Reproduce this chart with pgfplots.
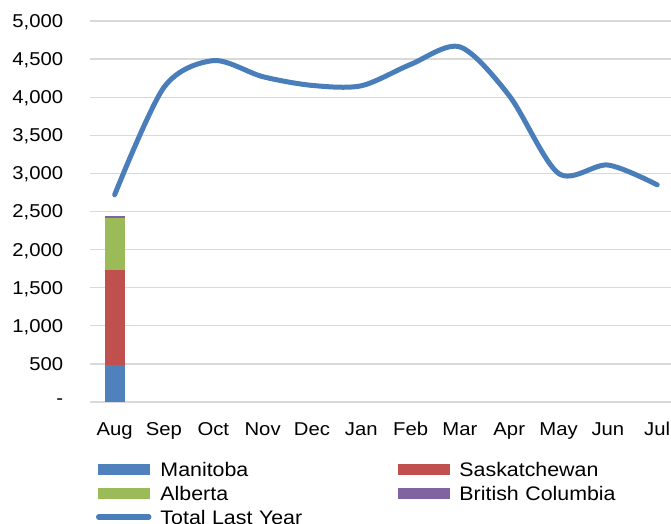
\documentclass[border=0pt]{standalone}
\usepackage{fontspec}
\setmainfont{Liberation Sans}[FakeStretch=1.09]
\usepackage{pgfplots}
\pgfplotsset{compat=1.18}
\definecolor{mb}{HTML}{4F81BD}
\definecolor{sk}{HTML}{C0504D}
\definecolor{ab}{HTML}{9BBB59}
\definecolor{bc}{HTML}{8064A2}
\definecolor{lb}{HTML}{4A7EBB}
\definecolor{gridc}{HTML}{D9D9D9}
\begin{document}
\fontsize{18.6bp}{22bp}\selectfont
\begin{tikzpicture}
\pgfplotsset{common/.style={
  scale only axis, width=581bp, height=381bp,
  xmin=-0.5, xmax=11.28, ymin=0, ymax=5000,
  at={(0,0)}, anchor=south west}}
\begin{axis}[common,
  ybar stacked, bar width=20bp,
  axis line style={draw=none},
  major tick length=0pt,
  ymajorgrids, grid style={draw=gridc, line width=1.3bp},
  ytick={0,500,1000,1500,2000,2500,3000,3500,4000,4500,5000},
  yticklabels={-,500,{1,000},{1,500},{2,000},{2,500},{3,000},{3,500},{4,000},{4,500},{5,000}},
  yticklabel style={anchor=east, inner sep=0pt, xshift=-26.7bp, text depth=0pt},
  xtick={0,1,2,3,4,5,6,7,8,9,10,11},
  xticklabels={Aug,Sep,Oct,Nov,Dec,Jan,Feb,Mar,Apr,May,Jun,Jul},
  xticklabel style={anchor=base, inner sep=0pt, yshift=-33bp},
  legend columns=2,
  legend cell align=left,
  legend style={draw=none, fill=none, inner sep=0pt, outer sep=0pt,
    anchor=north west, at={(0.0103,-0.1575)},
    row sep=10bp, column sep=9bp,
    font=\fontsize{19.6bp}{22bp}\selectfont,
    nodes={inner sep=0pt, text height=14bp, text depth=0pt, text width=229bp}},
]
\addplot[fill=mb, draw=none, legend image code/.code={\fill[mb] (0bp,-5.5bp) rectangle (52bp,5.5bp);}] coordinates {(0,480)};
\addlegendentry{Manitoba}
\addplot[fill=sk, draw=none, legend image code/.code={\fill[sk] (0bp,-5.5bp) rectangle (52bp,5.5bp);}] coordinates {(0,1252)};
\addlegendentry{Saskatchewan}
\addplot[fill=ab, draw=none, legend image code/.code={\fill[ab] (0bp,-5.5bp) rectangle (52bp,5.5bp);}] coordinates {(0,687)};
\addlegendentry{Alberta}
\addplot[fill=bc, draw=none, legend image code/.code={\fill[bc] (0bp,-5.5bp) rectangle (52bp,5.5bp);}] coordinates {(0,22)};
\addlegendentry{British Columbia}
\addlegendimage{legend image code/.code={\draw[lb, line width=5.5bp, line cap=round] (1bp,0bp) -- (51bp,0bp);}}
\addlegendentry{Total Last Year}
\end{axis}
\begin{axis}[common, hide axis]
\addplot[lb, line width=5bp, smooth, line cap=round, line join=round] coordinates {
(0,2720) (1,4130) (2,4480) (3,4270) (4,4155) (5,4150) (6,4430) (7,4660) (8,4020) (9,3000) (10,3110) (11,2850)};
\end{axis}
\pgfresetboundingbox
\path (-90bp,-122bp) rectangle (581bp,402bp);
\end{tikzpicture}
\end{document}
